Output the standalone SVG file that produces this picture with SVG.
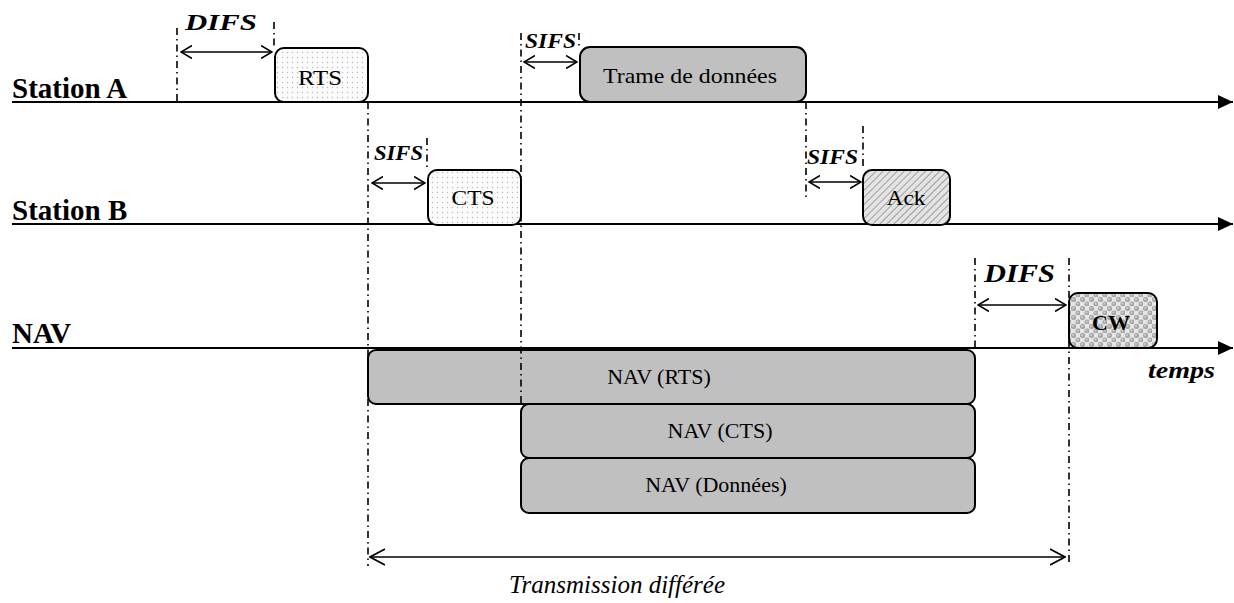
<svg xmlns="http://www.w3.org/2000/svg" width="1234" height="603" viewBox="0 0 1234 603">
<style>
text{font-family:"Times New Roman","Liberation Serif",Tinos,"DejaVu Serif",serif}
.lbl{font-weight:bold;font-size:29px;fill:#000}
.ti{font-weight:bold;font-style:italic;fill:#000}
.bx{font-size:22px;fill:#000;text-anchor:middle}
.axis{stroke:#000;stroke-width:2;fill:none}
.guide{stroke:#000;stroke-width:1.6;fill:none;stroke-dasharray:7,4,1.5,4}
.dbl{stroke:#000;stroke-width:1.6;fill:none}
.box{stroke:#000;stroke-width:2}
</style>
<defs>
<marker id="tri" viewBox="0 0 15 14" refX="15" refY="7" markerWidth="15" markerHeight="14" markerUnits="userSpaceOnUse" orient="auto">
<path d="M0,0 L15,7 L0,14 z" fill="#000"/>
</marker>
<marker id="v" viewBox="0 0 12 14" refX="11" refY="7" markerWidth="12" markerHeight="14" markerUnits="userSpaceOnUse" orient="auto-start-reverse">
<path d="M0,0.5 L11,7 L0,13.5" fill="none" stroke="#000" stroke-width="1.6"/>
</marker>
<marker id="vb" viewBox="0 0 16 18" refX="15" refY="9" markerWidth="16" markerHeight="18" markerUnits="userSpaceOnUse" orient="auto-start-reverse">
<path d="M0,1 L15,9 L0,17" fill="none" stroke="#000" stroke-width="1.8"/>
</marker>
<pattern id="dots" width="5" height="5" patternUnits="userSpaceOnUse">
<rect width="5" height="5" fill="#fbfbfb"/>
<circle cx="2.5" cy="2.5" r="0.7" fill="#b8b8b8"/>
</pattern>
<pattern id="hatch" width="5" height="5" patternUnits="userSpaceOnUse" patternTransform="rotate(45)">
<rect width="5" height="5" fill="#e4e4e4"/>
<line x1="0" y1="0" x2="0" y2="5" stroke="#8c8c8c" stroke-width="1.6"/>
</pattern>
<pattern id="balls" width="9" height="9" patternUnits="userSpaceOnUse">
<rect width="9" height="9" fill="#e6e6e6"/>
<circle cx="2.5" cy="2.5" r="2.6" fill="#a8a8a8"/>
<circle cx="7" cy="7" r="2.6" fill="#a8a8a8"/>
<circle cx="2" cy="2" r="1" fill="#d0d0d0"/>
<circle cx="6.5" cy="6.5" r="1" fill="#d0d0d0"/>
</pattern>
</defs>
<rect width="1234" height="603" fill="#fff"/>

<g id="axes">
<line class="axis" x1="12" y1="102" x2="1233" y2="102" marker-end="url(#tri)"/>
<line class="axis" x1="12" y1="224" x2="1233" y2="224" marker-end="url(#tri)"/>
<line class="axis" x1="12" y1="348" x2="1233" y2="348" marker-end="url(#tri)"/>
<text class="lbl" x="12" y="98">Station A</text>
<text class="lbl" x="12" y="220">Station B</text>
<text class="lbl" x="12" y="343">NAV</text>
<text class="ti" x="1148" y="378" font-size="24" textLength="67" lengthAdjust="spacingAndGlyphs">temps</text>
</g>

<g id="guides-back">
<line class="guide" x1="368" y1="102" x2="368" y2="566"/>
<line class="guide" x1="1069" y1="258" x2="1069" y2="566"/>
</g>

<g id="node-rts">
<rect class="box" x="275" y="48" width="93" height="54" rx="9" fill="url(#dots)"/>
<text class="bx" x="320" y="85" textLength="44" lengthAdjust="spacingAndGlyphs">RTS</text>
</g>
<g id="node-data">
<rect class="box" x="580" y="47" width="226" height="55" rx="10" fill="#c0c0c0"/>
<text class="bx" x="690" y="83" font-size="23" textLength="174" lengthAdjust="spacingAndGlyphs">Trame de données</text>
</g>
<g id="node-cts">
<rect class="box" x="428" y="170" width="93" height="55" rx="9" fill="url(#dots)"/>
<text class="bx" x="473" y="205" textLength="43" lengthAdjust="spacingAndGlyphs">CTS</text>
</g>
<g id="node-ack">
<rect class="box" x="863" y="170" width="87" height="55" rx="9" fill="url(#hatch)"/>
<text class="bx" x="906" y="205" textLength="39" lengthAdjust="spacingAndGlyphs">Ack</text>
</g>
<g id="node-cw">
<rect class="box" x="1069" y="293" width="88" height="55" rx="9" fill="url(#balls)"/>
<text class="bx" x="1111" y="330" font-size="20" font-weight="bold" textLength="38" lengthAdjust="spacingAndGlyphs">CW</text>
</g>
<g id="node-nav-rts">
<rect class="box" x="368" y="350" width="607" height="54" rx="8" fill="#c0c0c0"/>
<text class="bx" x="659" y="384">NAV (RTS)</text>
</g>
<g id="node-nav-cts">
<rect class="box" x="521" y="404" width="454" height="54" rx="8" fill="#c0c0c0"/>
<text class="bx" x="720" y="438">NAV (CTS)</text>
</g>
<g id="node-nav-data">
<rect class="box" x="521" y="458" width="454" height="55" rx="8" fill="#c0c0c0"/>
<text class="bx" x="716" y="492">NAV (Données)</text>
</g>

<g id="guides">
<line class="guide" x1="177" y1="28" x2="177" y2="102"/>
<line class="guide" x1="274" y1="22" x2="274" y2="48"/>
<line class="guide" x1="521" y1="33" x2="521" y2="404"/>
<line class="guide" x1="579" y1="33" x2="579" y2="47"/>
<line class="guide" x1="427" y1="138" x2="427" y2="170"/>
<line class="guide" x1="806" y1="102" x2="806" y2="200"/>
<line class="guide" x1="863" y1="126" x2="863" y2="170"/>
<line class="guide" x1="975" y1="258" x2="975" y2="350"/>
</g>

<g id="connectors">
<line class="dbl" x1="181" y1="52" x2="272" y2="52" marker-start="url(#v)" marker-end="url(#v)"/>
<line class="dbl" x1="524" y1="62" x2="577" y2="62" marker-start="url(#v)" marker-end="url(#v)"/>
<line class="dbl" x1="372" y1="183" x2="425" y2="183" marker-start="url(#v)" marker-end="url(#v)"/>
<line class="dbl" x1="809" y1="182" x2="861" y2="182" marker-start="url(#v)" marker-end="url(#v)"/>
<line class="dbl" x1="978" y1="305" x2="1066" y2="305" marker-start="url(#v)" marker-end="url(#v)"/>
<line class="dbl" x1="370" y1="557" x2="1065" y2="557" stroke-width="2" marker-start="url(#vb)" marker-end="url(#vb)"/>
</g>

<g id="labels">
<text class="ti" x="185" y="30" font-size="24" textLength="72" lengthAdjust="spacingAndGlyphs">DIFS</text>
<text class="ti" x="525" y="48" font-size="21" textLength="51" lengthAdjust="spacingAndGlyphs">SIFS</text>
<text class="ti" x="374" y="160" font-size="21" textLength="49" lengthAdjust="spacingAndGlyphs">SIFS</text>
<text class="ti" x="807" y="164" font-size="22" textLength="51" lengthAdjust="spacingAndGlyphs">SIFS</text>
<text class="ti" x="984" y="282" font-size="25" textLength="71" lengthAdjust="spacingAndGlyphs">DIFS</text>
<text x="617" y="593" font-style="italic" font-size="25" text-anchor="middle">Transmission différée</text>
</g>
</svg>
